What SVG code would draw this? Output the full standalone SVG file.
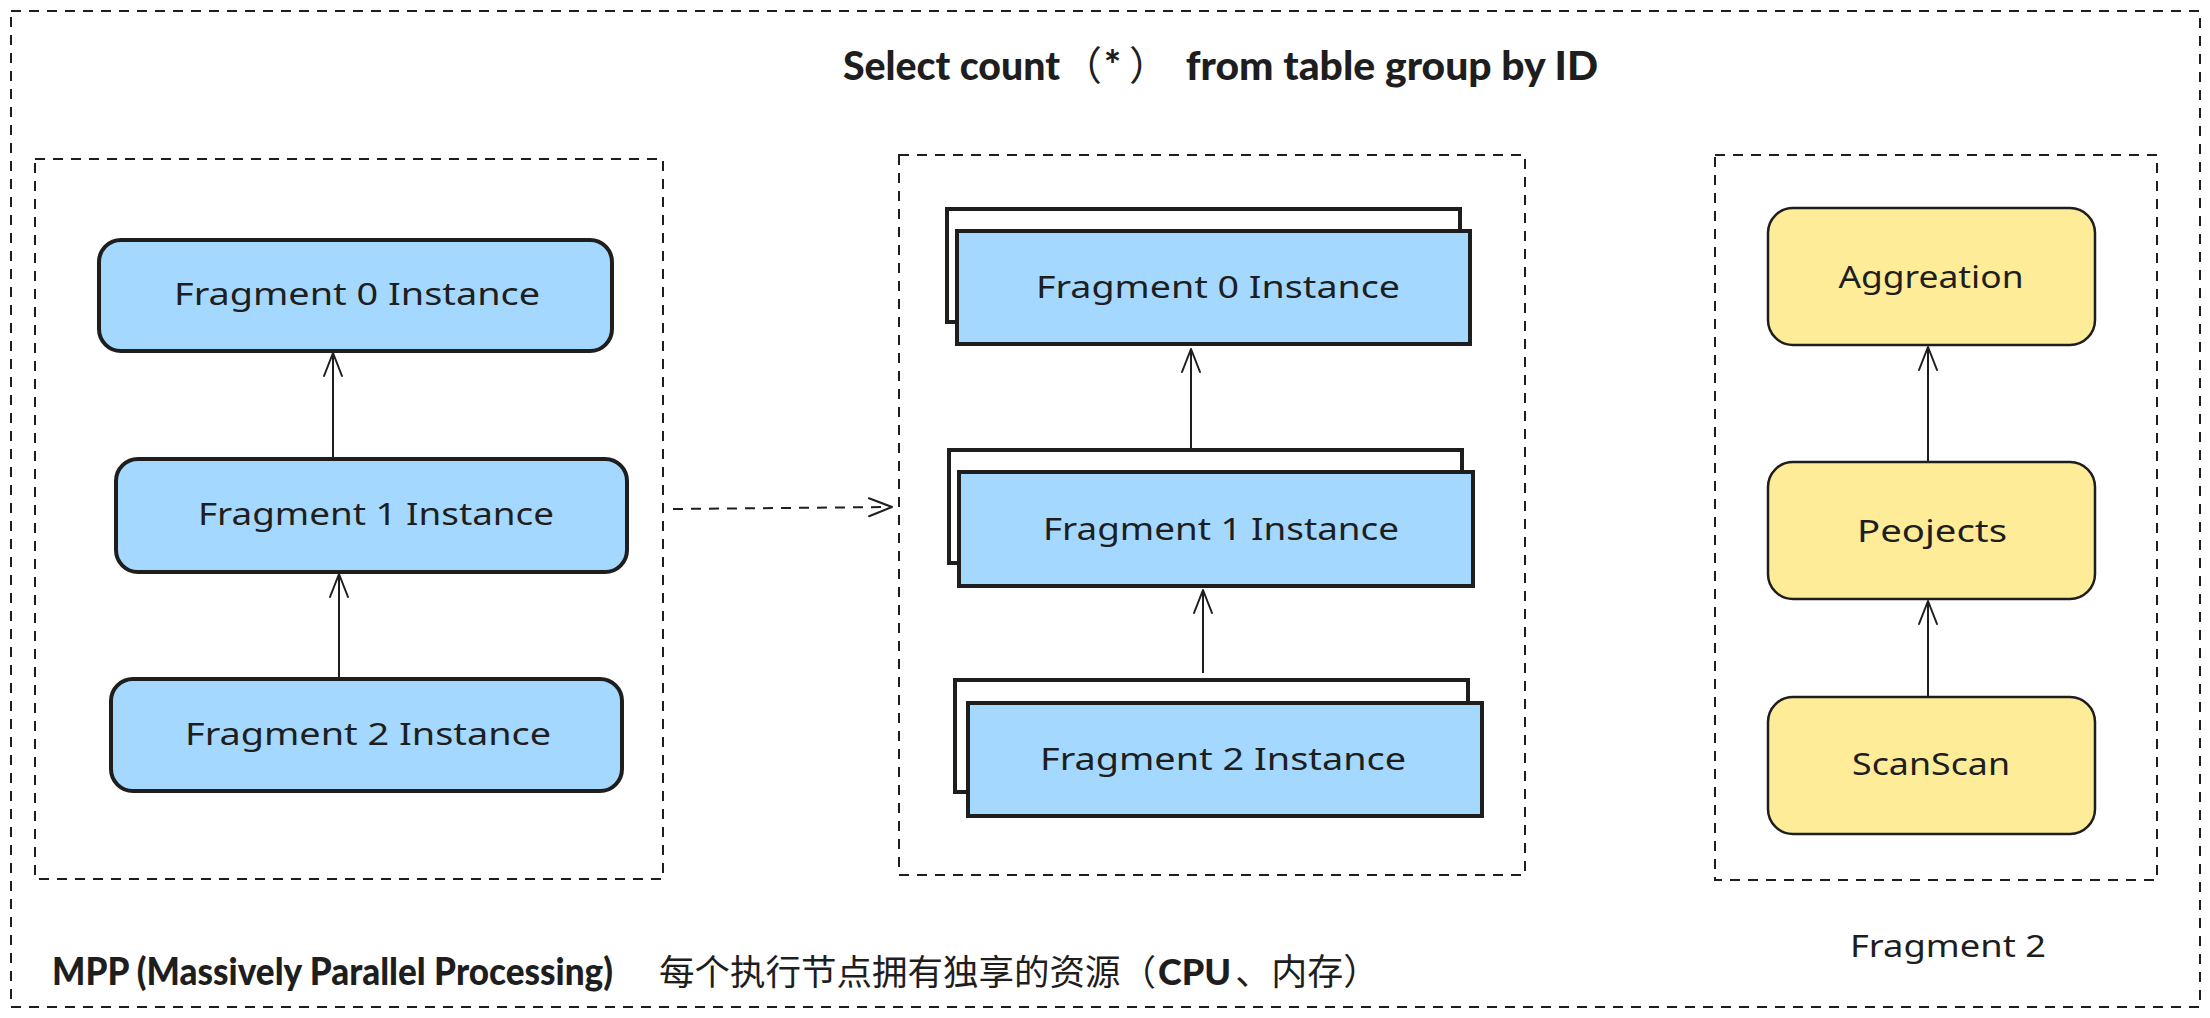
<svg xmlns="http://www.w3.org/2000/svg" width="2210" height="1018" viewBox="0 0 2210 1018">
  <style>
    .frame { fill: none; stroke: #1e1e1e; stroke-width: 2; stroke-dasharray: 10 8; }
    .blue { fill: #a5d8ff; stroke: #1e1e1e; stroke-width: 4; }
    .back { fill: #ffffff; stroke: #1e1e1e; stroke-width: 4; }
    .yellow { fill: #ffec99; stroke: #1e1e1e; stroke-width: 2.5; }
    .lbl { font-family: "Noto Sans", "Liberation Sans", sans-serif; font-size: 30px; fill: #1e1e1e; text-anchor: middle; }
    .bold { font-family: Lato, "Noto Sans", "Liberation Sans", "Noto Sans CJK SC", sans-serif; font-weight: 900; fill: #1e1e1e; }
    .cjk { font-family: "Noto Sans CJK SC", "Noto Sans", sans-serif; font-weight: 400; fill: #1e1e1e; }
    .conn { fill: none; stroke: #1e1e1e; stroke-width: 2; }
    .dash { stroke-dasharray: 10 8; }
  </style>
  <defs>
    <marker id="arr" markerUnits="userSpaceOnUse" markerWidth="28" markerHeight="24" viewBox="0 0 28 24" refX="25" refY="12" orient="auto">
      <path d="M2,3 L25,12 L2,21" fill="none" stroke="#1e1e1e" stroke-width="2" stroke-linecap="round" stroke-linejoin="round"/>
    </marker>
  </defs>
  <rect width="2210" height="1018" fill="#ffffff"/>

  <g id="outer-frame">
    <rect class="frame" x="11" y="11" width="2189" height="996"/>
  </g>

  <g id="title">
    <text class="bold" y="80" font-size="40"><tspan x="843" textLength="217" lengthAdjust="spacingAndGlyphs">Select count</tspan><tspan class="cjk" x="1062">（</tspan><tspan x="1104">*</tspan><tspan class="cjk" x="1129">）</tspan><tspan x="1176" textLength="422" lengthAdjust="spacingAndGlyphs"> from table group by ID</tspan></text>
  </g>

  <g id="group-left">
    <rect class="frame" x="35" y="159" width="628" height="720"/>
  </g>
  <g id="group-middle">
    <rect class="frame" x="899" y="155" width="626" height="720"/>
  </g>
  <g id="group-right">
    <rect class="frame" x="1715" y="155" width="442" height="725"/>
  </g>

  <g id="left-frag0">
    <rect class="blue" x="99" y="240" width="513" height="111" rx="22"/>
    <text class="lbl" x="357" y="305" textLength="366" lengthAdjust="spacingAndGlyphs">Fragment 0 Instance</text>
  </g>
  <g id="left-frag1">
    <rect class="blue" x="116" y="459" width="511" height="113" rx="22"/>
    <text class="lbl" x="376" y="525" textLength="356" lengthAdjust="spacingAndGlyphs">Fragment 1 Instance</text>
  </g>
  <g id="left-frag2">
    <rect class="blue" x="111" y="679" width="511" height="112" rx="22"/>
    <text class="lbl" x="368" y="745" textLength="366" lengthAdjust="spacingAndGlyphs">Fragment 2 Instance</text>
  </g>

  <g id="mid-frag0">
    <rect class="back" x="947" y="209" width="513" height="113"/>
    <rect class="blue" x="957" y="231" width="513" height="113"/>
    <text class="lbl" x="1218" y="298" textLength="364" lengthAdjust="spacingAndGlyphs">Fragment 0 Instance</text>
  </g>
  <g id="mid-frag1">
    <rect class="back" x="949" y="450" width="513" height="113"/>
    <rect class="blue" x="959" y="472" width="514" height="114"/>
    <text class="lbl" x="1221" y="540" textLength="356" lengthAdjust="spacingAndGlyphs">Fragment 1 Instance</text>
  </g>
  <g id="mid-frag2">
    <rect class="back" x="955" y="680" width="513" height="112"/>
    <rect class="blue" x="968" y="703" width="514" height="113"/>
    <text class="lbl" x="1223" y="770" textLength="366" lengthAdjust="spacingAndGlyphs">Fragment 2 Instance</text>
  </g>

  <g id="aggregation">
    <rect class="yellow" x="1768" y="208" width="327" height="137" rx="25"/>
    <text class="lbl" x="1931" y="288" textLength="185" lengthAdjust="spacingAndGlyphs">Aggreation</text>
  </g>
  <g id="projects">
    <rect class="yellow" x="1768" y="462" width="327" height="137" rx="25"/>
    <text class="lbl" x="1932" y="542" textLength="150" lengthAdjust="spacingAndGlyphs">Peojects</text>
  </g>
  <g id="scan">
    <rect class="yellow" x="1768" y="697" width="327" height="137" rx="25"/>
    <text class="lbl" x="1931" y="775" textLength="158" lengthAdjust="spacingAndGlyphs">ScanScan</text>
  </g>

  <g id="fragment2-label">
    <text class="lbl" x="1948" y="957" textLength="196" lengthAdjust="spacingAndGlyphs">Fragment 2</text>
  </g>

  <g id="footer">
    <text y="985" font-size="38"><tspan class="bold" x="52" textLength="561" lengthAdjust="spacingAndGlyphs">MPP (Massively Parallel Processing)</tspan><tspan class="cjk" x="659" font-size="35.5">每个执行节点拥有独享的资源（</tspan><tspan class="bold" font-size="36" x="1158">CPU</tspan><tspan class="cjk" font-size="36" dx="4">、内存）</tspan></text>
  </g>

  <g id="connectors">
    <line class="conn" x1="333" y1="458" x2="333" y2="353" marker-end="url(#arr)"/>
    <line class="conn" x1="339" y1="679" x2="339" y2="574" marker-end="url(#arr)"/>
    <line class="conn" x1="1191" y1="448" x2="1191" y2="349" marker-end="url(#arr)"/>
    <line class="conn" x1="1203" y1="673" x2="1203" y2="590" marker-end="url(#arr)"/>
    <line class="conn" x1="1928" y1="462" x2="1928" y2="347" marker-end="url(#arr)"/>
    <line class="conn" x1="1928" y1="697" x2="1928" y2="601" marker-end="url(#arr)"/>
    <line class="conn dash" x1="673" y1="509" x2="892" y2="507" marker-end="url(#arr)"/>
  </g>
</svg>
